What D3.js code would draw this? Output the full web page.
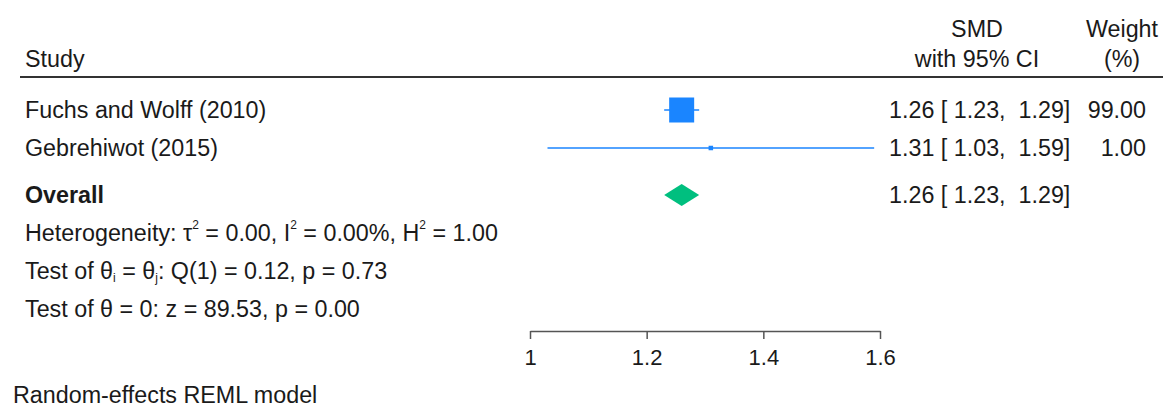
<!DOCTYPE html>
<html>
<head>
<meta charset="utf-8">
<script src="https://d3js.org/d3.v7.min.js"></script>
<style>
  body { margin: 0; background: #fff; }
  text { font-family: Arial, "Liberation Sans", sans-serif; fill: #1a1a1a; }
</style>
</head>
<body>
<svg id="forest" width="1163" height="408"></svg>
<script>
  // data
  const studies = ['Fuchs and Wolff (2010)', 'Gebrehiwot (2015)'];
  const smd = [1.26, 1.31];
  const ciLow = [1.23, 1.03];
  const ciHigh = [1.29, 1.59];
  const weights = [99.00, 1.00];
  const overall = {label: 'Overall', est: 1.26, lo: 1.23, hi: 1.29};
  const xTicks = [1, 1.2, 1.4, 1.6];

  const svg = d3.select('#forest');
  const fs = 23.3;

  const x = d3.scaleLinear().domain([1, 1.6]).range([530, 880]);
  const rowY = d3.scaleLinear().domain([0, 1]).range([110, 148]);
  const boxSize = d3.scaleSqrt().domain([0, 99]).range([0, 25]);
  const f2 = d3.format('.2f');
  const ciText = (e, l, h) => `${f2(e)} [ ${f2(l)},  ${f2(h)}]`;

  // header
  const hdr = svg.append('g');
  hdr.append('text').attr('x', 25).attr('y', 67).attr('font-size', fs).text('Study');
  hdr.append('text').attr('x', 977).attr('y', 37).attr('font-size', fs).attr('text-anchor', 'middle').text('SMD');
  hdr.append('text').attr('x', 977).attr('y', 67).attr('font-size', fs).attr('text-anchor', 'middle').text('with 95% CI');
  hdr.append('text').attr('x', 1122).attr('y', 37).attr('font-size', fs).attr('text-anchor', 'middle').text('Weight');
  hdr.append('text').attr('x', 1122).attr('y', 67).attr('font-size', fs).attr('text-anchor', 'middle').text('(%)');
  hdr.append('line').attr('x1', 20).attr('x2', 1163).attr('y1', 77).attr('y2', 77)
     .attr('stroke', '#333').attr('stroke-width', 2);

  // study rows
  const rows = studies.map((s, i) => ({s, est: smd[i], lo: ciLow[i], hi: ciHigh[i], w: weights[i], y: rowY(i)}));
  const g = svg.append('g');
  g.selectAll('.ci').data(rows).enter().append('line')
   .attr('x1', d => x(d.lo)).attr('x2', d => x(d.hi))
   .attr('y1', d => d.y).attr('y2', d => d.y)
   .attr('stroke', '#1a85ff').attr('stroke-width', 1.6);
  g.selectAll('.box').data(rows).enter().append('rect')
   .attr('x', d => x(d.est) - Math.max(4.5, boxSize(d.w)) / 2)
   .attr('y', d => d.y - Math.max(4.5, boxSize(d.w)) / 2)
   .attr('width', d => Math.max(4.5, boxSize(d.w)))
   .attr('height', d => Math.max(4.5, boxSize(d.w)))
   .attr('fill', '#1a85ff');
  g.selectAll('.name').data(rows).enter().append('text')
   .attr('x', 25).attr('y', d => d.y + 8).attr('font-size', fs).text(d => d.s);
  g.selectAll('.est').data(rows).enter().append('text')
   .attr('x', 889).attr('y', d => d.y + 8).attr('font-size', fs)
   .style('white-space', 'pre').text(d => ciText(d.est, d.lo, d.hi));
  g.selectAll('.wt').data(rows).enter().append('text')
   .attr('x', 1146).attr('y', d => d.y + 8).attr('font-size', fs).attr('text-anchor', 'end')
   .text(d => f2(d.w));

  // overall
  const oy = rowY(2) + 9;
  g.append('path')
   .attr('d', `M${x(overall.lo)},${oy} L${x(overall.est)},${oy - 11} L${x(overall.hi)},${oy} L${x(overall.est)},${oy + 11} Z`)
   .attr('fill', '#00bf7f');
  g.append('text').attr('x', 25).attr('y', oy + 8).attr('font-size', fs).attr('font-weight', 'bold').text(overall.label);
  g.append('text').attr('x', 889).attr('y', oy + 8).attr('font-size', fs).style('white-space', 'pre')
   .text(ciText(overall.est, overall.lo, overall.hi));

  // statistics: segments [text, shift] where shift <0 raises (superscript), >0 lowers (subscript)
  const step = rowY(1) - rowY(0);
  function richText(y, parts) {
    const t = g.append('text').attr('x', 25).attr('y', y).attr('font-size', fs).style('white-space', 'pre');
    let cur = 0;
    parts.forEach(([s, shift]) => {
      t.append('tspan').attr('dy', shift - cur).attr('font-size', shift ? 12 : fs).text(s);
      cur = shift;
    });
  }
  richText(oy + step + 8, [['Heterogeneity: τ', 0], ['2', -12], [' = 0.00, I', 0], ['2', -12],
                           [' = 0.00%, H', 0], ['2', -12], [' = 1.00', 0]]);
  richText(oy + 2 * step + 8, [['Test of θ', 0], ['i', 3], [' = θ', 0], ['j', 3], [': Q(1) = 0.12, p = 0.73', 0]]);
  richText(oy + 3 * step + 8, [['Test of θ = 0: z = 89.53, p = 0.00', 0]]);

  // axis
  const ax = svg.append('g').attr('transform', 'translate(0,331)')
    .call(d3.axisBottom(x).tickValues(xTicks).tickSize(8).tickSizeOuter(0).tickPadding(10).tickFormat(d => d));
  ax.select('.domain').attr('stroke', '#555').attr('stroke-width', 1.5);
  ax.selectAll('.tick line').attr('stroke', '#555').attr('stroke-width', 1.5);
  ax.selectAll('.tick text').attr('font-size', 22).attr('fill', '#1a1a1a')
    .attr('font-family', 'Arial, "Liberation Sans", sans-serif');

  svg.append('text').attr('x', 13).attr('y', 403).attr('font-size', fs).text('Random-effects REML model');
</script>
</body>
</html>
